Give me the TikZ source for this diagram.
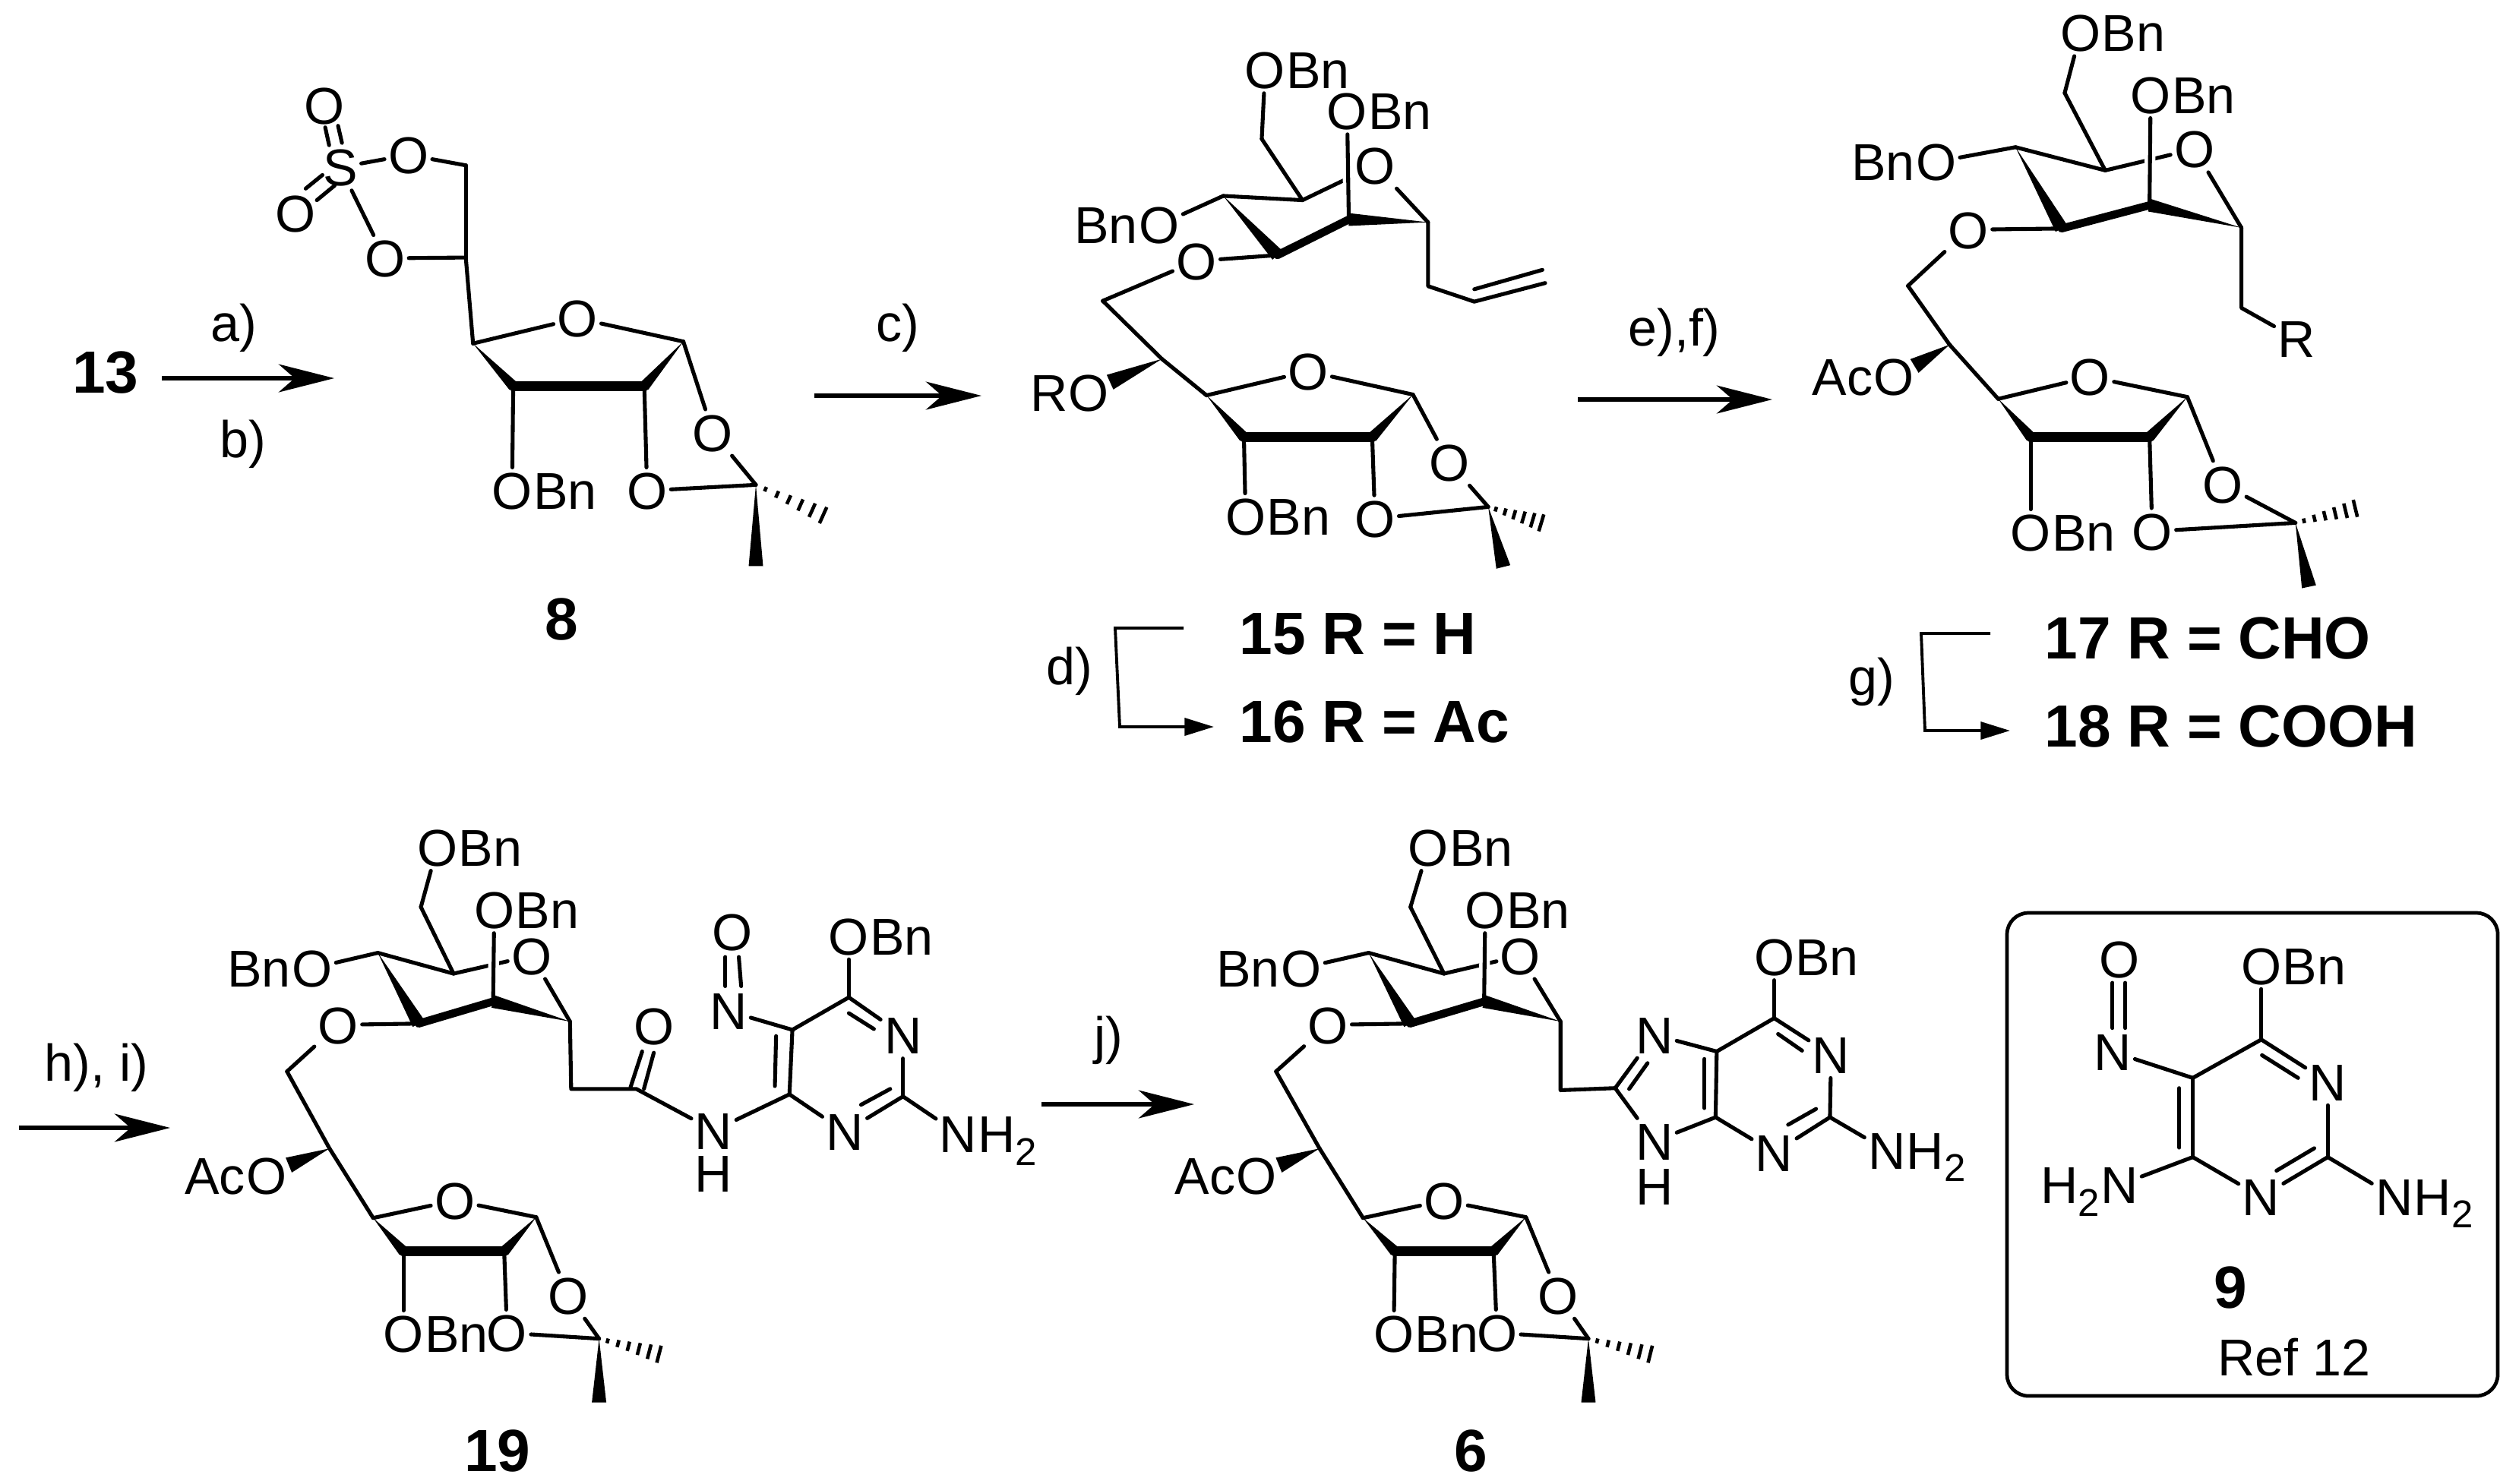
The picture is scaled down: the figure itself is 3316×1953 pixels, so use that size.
\documentclass[tikz,border=0pt]{standalone}
\usepackage{fontspec}
\setmainfont{Liberation Sans}
\usetikzlibrary{calc,arrows.meta}
\newcommand\subtwo{\raisebox{-.24em}{\fontsize{14.5}{15}\selectfont 2}}
\tikzset{
  atom/.style={font=\fontsize{19.4}{22}\selectfont,inner xsep=1.2pt,inner ysep=1.5pt,text height=14pt,text depth=0pt},
  tailtext/.style={atom,inner xsep=0pt},
  bond/.style={line width=1.45pt,line join=round,line cap=round},
  boldbond/.style={line width=#1,line cap=round},
  halo/.style={white,line width=4pt},
  hashbar/.style={line width=1.3pt},
  lab/.style={font=\fontsize{22.3}{25}\selectfont\bfseries,inner sep=0pt,text height=15.5pt,text depth=0pt},
  reag/.style={font=\fontsize{19.4}{22}\selectfont,inner sep=0pt},
  bigarrow/.style={line width=1.5pt,-{Stealth[length=20.8pt,width=10.5pt,inset=6pt]}},
  smallarrow/.style={line width=1.1pt,-{Stealth[length=11pt,width=6.5pt,inset=0pt]}},
  refbox/.style={line width=1.35pt,rounded corners=8pt}
}
\newcommand\crd[2]{\coordinate (#1) at (#2);}
\newcommand\atm[3]{\node[atom] (#1) at (#2) {#3};}
\newcommand\atr[4]{\atm{#1}{#2}{#3}\node[tailtext,anchor=west,xshift=-1.2pt] (#1t) at (#1.east) {#4};}
\newcommand\atl[4]{\atm{#1}{#2}{#3}\node[tailtext,anchor=east,xshift=1.2pt] (#1p) at (#1.west) {#4};}
\newcommand\bd[2]{\draw[bond] (#1) -- (#2);}
\newcommand\seg[3]{\coordinate (#1a) at (#2);\coordinate (#1b) at (#3);\draw[bond] (#1a) -- (#1b);}
\newcommand\wdg[3][2pt]{\fill (#2) -- ($(#3)!#1!90:(#2)$) -- ($(#3)!#1!-90:(#2)$) -- cycle;}
\newcommand\hsh[2]{\foreach \tt/\ww in {.14/.9,.31/1.35,.48/1.8,.65/2.3,.82/2.8,.98/3.3}{%
  \coordinate (hh) at ($(#1)!\tt!(#2)$);
  \draw[hashbar] ($(hh)!\ww pt!90:(#2)$) -- ($(hh)!\ww pt!-90:(#2)$);}}
% furanose + acetonide
\newcommand\furanbonds{%
  \bd{rc}{fO}\bd{fO}{fc}
  \wdg{rc}{f1}\wdg{fc}{f2}
  \draw[boldbond=3.7pt] (f1) -- (f2);
  \bd{f1}{Ob}\bd{f2}{Od}\bd{fc}{Oe}\bd{Oe}{q}\bd{Od}{q}
  \hsh{q}{qh}\wdg[2.7pt]{q}{qw}}
% pyranose
\newcommand\pyranbonds{%
  \bd{Ot}{ch2}\bd{ch2}{c5}\bd{c5}{c6}\bd{c6}{Ob2}
  \bd{c5}{Or}
  \draw[halo] (O2) -- (c3);
  \bd{O2}{c3}\bd{Or}{c1}
  \wdg[2.5pt]{c6}{c7}
  \draw[boldbond=3pt] (c7) -- (c3);
  \wdg[2.4pt]{c1}{c3}
  \bd{c7}{Ol}\bd{Ol}{gl}\bd{gl}{ch}\bd{ch}{rc}
  \wdg[3pt]{ch}{tip}}
\begin{document}
\begin{tikzpicture}[x=.01cm,y=-.01cm]
\useasboundingbox (0,0) rectangle (3316,1953);

% ---------- compound 8
\begin{scope}[shift={(0,80)},x=.007334cm,y=-.005102cm,name prefix=m8-]
\atm{S}{610,275}{S}\atm{Oa}{582,115}{O}\atm{Ob1}{530,393}{O}\atm{Oc}{732,243}{O}\atm{Ods}{690,510}{O}
\crd{c1}{835,270}\crd{c2}{835,508}\crd{rc}{848,730}
\atm{fO}{1035,665}{O}\crd{fc}{1225,725}\crd{f2}{1155,840}\crd{f1}{920,840}
\atr{Ob}{918,1110}{O}{Bn}\atm{Od}{1160,1110}{O}\atm{Oe}{1278,960}{O}
\crd{q}{1355,1095}\crd{qh}{1478,1175}\crd{qw}{1355,1305}
\seg{s1}{590,218}{583,172}\seg{s2}{613,212}{606,168}
\seg{s3}{548,330}{578,295}\seg{s4}{568,360}{600,322}
\bd{S}{Oc}\bd{Oc}{c1}\bd{c1}{c2}\bd{c2}{Ods}\bd{Ods}{S}\bd{c2}{rc}
\furanbonds
\end{scope}

% ---------- compound 15/16
\begin{scope}[shift={(1050,30)},x=.007334cm,y=-.005102cm,name prefix=m15-]
\atr{Ot}{838,122}{O}{Bn}\crd{ch2}{832,300}\crd{c5}{905,458}\crd{c6}{763,447}
\atl{Ob2}{648,522}{O}{Bn}\atm{Or}{1035,368}{O}\atr{O2}{985,228}{O}{Bn}
\crd{c3}{988,508}\crd{c7}{860,600}\crd{c1}{1130,515}\atm{Ol}{715,615}{O}
\crd{gl}{547,718}\crd{ch}{653,868}\crd{rc}{733,962}
\atl{Ox}{522,955}{O}{R}\crd{tip}{560,928}
\atm{fO}{915,900}{O}\crd{fc}{1103,960}\crd{f1}{800,1070}\crd{f2}{1030,1070}
\atr{Ob}{803,1275}{O}{Bn}\atm{Od}{1035,1280}{O}\atm{Oe}{1168,1135}{O}
\crd{q}{1238,1250}\crd{qh}{1335,1292}\crd{qw}{1265,1405}
\crd{al1}{1130,680}\crd{al2}{1213,720}\crd{al3}{1340,672}
\pyranbonds\furanbonds
\draw[bond] (c1) -- (al1) -- (al2) -- (al3);
\seg{al}{1213,688}{1335,638}
\end{scope}

% ---------- compound 17/18
\begin{scope}[shift={(2200,0)},x=.007117cm,y=-.005102cm,name prefix=m17-]
\atr{Ot}{757,85}{O}{Bn}\crd{ch2}{728,240}\crd{c5}{803,440}\crd{c6}{637,380}
\atl{Ob2}{490,418}{O}{Bn}\atm{Or}{968,385}{O}\atr{O2}{887,245}{O}{Bn}
\crd{c3}{885,530}\crd{c7}{722,590}\crd{c1}{1055,588}\atm{Ol}{550,593}{O}
\crd{gl}{438,738}\crd{ch}{515,890}\crd{rc}{605,1030}
\atl{Ox}{412,973}{O}{Ac}\crd{tip}{450,945}
\atm{fO}{775,973}{O}\crd{fc}{955,1025}\crd{f1}{665,1128}\crd{f2}{885,1128}
\atr{Ob}{665,1375}{O}{Bn}\atm{Od}{890,1372}{O}\atm{Oe}{1020,1250}{O}
\crd{q}{1155,1350}\crd{qh}{1268,1312}\crd{qw}{1180,1515}
\crd{rr}{1055,795}\atm{R}{1157,875}{R}
\pyranbonds\furanbonds
\draw[bond] (c1) -- (rr) -- (R);
\end{scope}

% ---------- compound 19
\begin{scope}[shift={(200,1060)},x=.007653cm,y=-.005485cm,name prefix=m19-]
\atr{Ot}{490,102}{O}{Bn}\crd{ch2}{462,245}\crd{c5}{518,405}\crd{c6}{388,355}
\atl{Ob2}{275,392}{O}{Bn}\atm{Or}{652,362}{O}\atr{O2}{588,252}{O}{Bn}
\crd{c3}{586,472}\crd{c7}{458,525}\crd{c1}{718,520}\atm{Ol}{320,528}{O}
\crd{gl}{232,640}\crd{ch}{305,825}\crd{rc}{380,992}
\atl{Ox}{197,890}{O}{Ac}\crd{tip}{235,865}
\atm{fO}{520,950}{O}\crd{fc}{660,990}\crd{f1}{432,1072}\crd{f2}{605,1072}
\atr{Ob}{432,1270}{O}{Bn}\atm{Od}{610,1268}{O}\atm{Oe}{715,1178}{O}
\crd{q}{768,1282}\crd{qh}{873,1320}\crd{qw}{768,1435}
\crd{a1}{720,682}\crd{a2}{832,682}\atm{Oam}{863,530}{O}
\atm{NH}{965,782}{N}\atm{HH}{965,885}{H}
\crd{p4}{1095,695}\crd{p5}{1100,540}\crd{p6}{1197,462}\atm{N1}{1290,553}{N}
\crd{p2}{1290,700}\atm{N3}{1190,785}{N}
\atr{Na}{1385,790}{N}{H\subtwo}\atr{Op}{1197,315}{O}{Bn}
\atm{No}{990,495}{N}\atm{Oo}{997,305}{O}
\pyranbonds\furanbonds
\draw[bond] (c1) -- (a1) -- (a2) -- (NH);
\seg{co1}{822,678}{842,592}\seg{co2}{845,682}{862,595}
\bd{NH}{p4}\bd{p4}{p5}\bd{p5}{p6}\bd{p6}{N1}\bd{N1}{p2}\bd{p2}{N3}\bd{N3}{p4}
\bd{p2}{Na}\bd{p6}{Op}\bd{No}{p5}
\seg{no1}{985,435}{985,365}\seg{no2}{1012,435}{1008,365}
\seg{i1}{1072,555}{1070,675}\seg{i2}{1197,500}{1240,538}\seg{i3}{1218,720}{1268,682}
\end{scope}

% ---------- compound 6
\begin{scope}[shift={(1480,1060)},x=.007334cm,y=-.005485cm,name prefix=m6-]
\atr{Ot}{545,102}{O}{Bn}\crd{ch2}{513,245}\crd{c5}{573,405}\crd{c6}{438,355}
\atl{Ob2}{317,392}{O}{Bn}\atm{Or}{710,362}{O}\atr{O2}{647,252}{O}{Bn}
\crd{c3}{645,472}\crd{c7}{512,525}\crd{c1}{782,520}\atm{Ol}{365,528}{O}
\crd{gl}{272,640}\crd{ch}{350,825}\crd{rc}{428,992}
\atl{Ox}{237,890}{O}{Ac}\crd{tip}{277,865}
\atm{fO}{573,950}{O}\crd{fc}{720,990}\crd{f1}{485,1072}\crd{f2}{662,1072}
\atr{Ob}{483,1270}{O}{Bn}\atm{Od}{668,1268}{O}\atm{Oe}{778,1178}{O}
\crd{q}{832,1282}\crd{qh}{945,1320}\crd{qw}{832,1435}
\crd{a1}{782,685}\crd{c8}{880,680}\atm{N7}{950,552}{N}\crd{c55}{1062,592}\crd{c4}{1060,750}
\atm{N9}{950,808}{N}\atm{HH}{950,915}{H}\crd{c66}{1165,512}\atm{N1}{1267,600}{N}
\crd{c2}{1265,750}\atm{N3}{1165,835}{N}\atr{Na}{1367,830}{N}{H\subtwo}\atr{Op}{1165,365}{O}{Bn}
\pyranbonds\furanbonds
\draw[bond] (c1) -- (a1) -- (c8);
\bd{c8}{N7}\bd{N7}{c55}\bd{c55}{c4}\bd{c4}{N9}\bd{N9}{c8}
\bd{c55}{c66}\bd{c66}{N1}\bd{N1}{c2}\bd{c2}{N3}\bd{N3}{c4}\bd{c2}{Na}\bd{c66}{Op}
\seg{i1}{905,682}{938,620}\seg{i2}{1040,610}{1040,728}\seg{i3}{1172,550}{1215,590}\seg{i4}{1190,768}{1240,730}
\end{scope}

% ---------- compound 9 in box
\crd{boxa}{2642,1202}\crd{boxb}{3288,1838}
\draw[refbox] (boxa) rectangle (boxb);
\begin{scope}[shift={(2620,1180)},x=.004439cm,y=-.004464cm,name prefix=m9-]
\atm{Oo}{382,185}{O}\atm{No}{362,458}{N}\crd{p5}{600,535}\crd{p6}{803,422}
\atr{Op}{803,205}{O}{Bn}\atm{N1}{1000,547}{N}\crd{p2}{1000,768}\atm{N3}{802,885}{N}\crd{p4}{600,768}
\atl{Nl}{382,850}{N}{H\subtwo}\atr{Na}{1197,885}{N}{H\subtwo}
\seg{no1}{362,388}{362,255}\seg{no2}{400,388}{400,255}
\bd{No}{p5}\bd{p5}{p6}\bd{p6}{N1}\bd{N1}{p2}\bd{p2}{N3}\bd{N3}{p4}\bd{p4}{p5}
\bd{p6}{Op}\bd{p4}{Nl}\bd{p2}{Na}
\seg{i1}{560,565}{560,740}\seg{i2}{805,468}{912,535}\seg{i3}{848,808}{960,742}
\end{scope}

% ---------- compound labels
\node[lab] (l13) at (139,490) {13};
\node[lab] (l8) at (739,815) {8};
\node[lab,anchor=base west] (l15) at (1631,861) {15 R = H};
\node[lab,anchor=base west] (l16) at (1631,977) {16 R = Ac};
\node[lab,anchor=base west] (l17) at (2691,867) {17 R = CHO};
\node[lab,anchor=base west] (l18) at (2691,983) {18 R = COOH};
\node[lab] (l19) at (655,1910) {19};
\node[lab] (l6) at (1936,1910) {6};
\node[lab] (l9) at (2936,1695) {9};
\node[reag] (lref) at (3020,1787) {Ref 12};

% ---------- reagents
\node[reag] (ra) at (308,432) {a)};
\node[reag] (rb) at (320,585) {b)};
\node[reag] (rc) at (1182,432) {c)};
\node[reag] (rd) at (1408,884) {d)};
\node[reag] (ref) at (2204,438) {e),f)};
\node[reag] (rg) at (2464,898) {g)};
\node[reag] (rh) at (127,1406) {h), i)};
\node[reag] (rj) at (1459,1370) {j)};

% ---------- arrows
\crd{a1s}{213,498}\crd{a1e}{440,498}
\draw[bigarrow] (a1s) -- (a1e);
\crd{a2s}{1072,521}\crd{a2e}{1292,521}
\draw[bigarrow] (a2s) -- (a2e);
\crd{a3s}{2077,526}\crd{a3e}{2333,526}
\draw[bigarrow] (a3s) -- (a3e);
\crd{a4s}{25,1485}\crd{a4e}{224,1485}
\draw[bigarrow] (a4s) -- (a4e);
\crd{a5s}{1371,1454}\crd{a5e}{1572,1454}
\draw[bigarrow] (a5s) -- (a5e);
\crd{b1a}{1558,827}\crd{b1b}{1468,827}\crd{b1c}{1474,957}\crd{b1d}{1598,957}
\draw[smallarrow] (b1a) -- (b1b) -- (b1c) -- (b1d);
\crd{b2a}{2620,834}\crd{b2b}{2529,834}\crd{b2c}{2534,962}\crd{b2d}{2646,962}
\draw[smallarrow] (b2a) -- (b2b) -- (b2c) -- (b2d);
\end{tikzpicture}
\end{document}
